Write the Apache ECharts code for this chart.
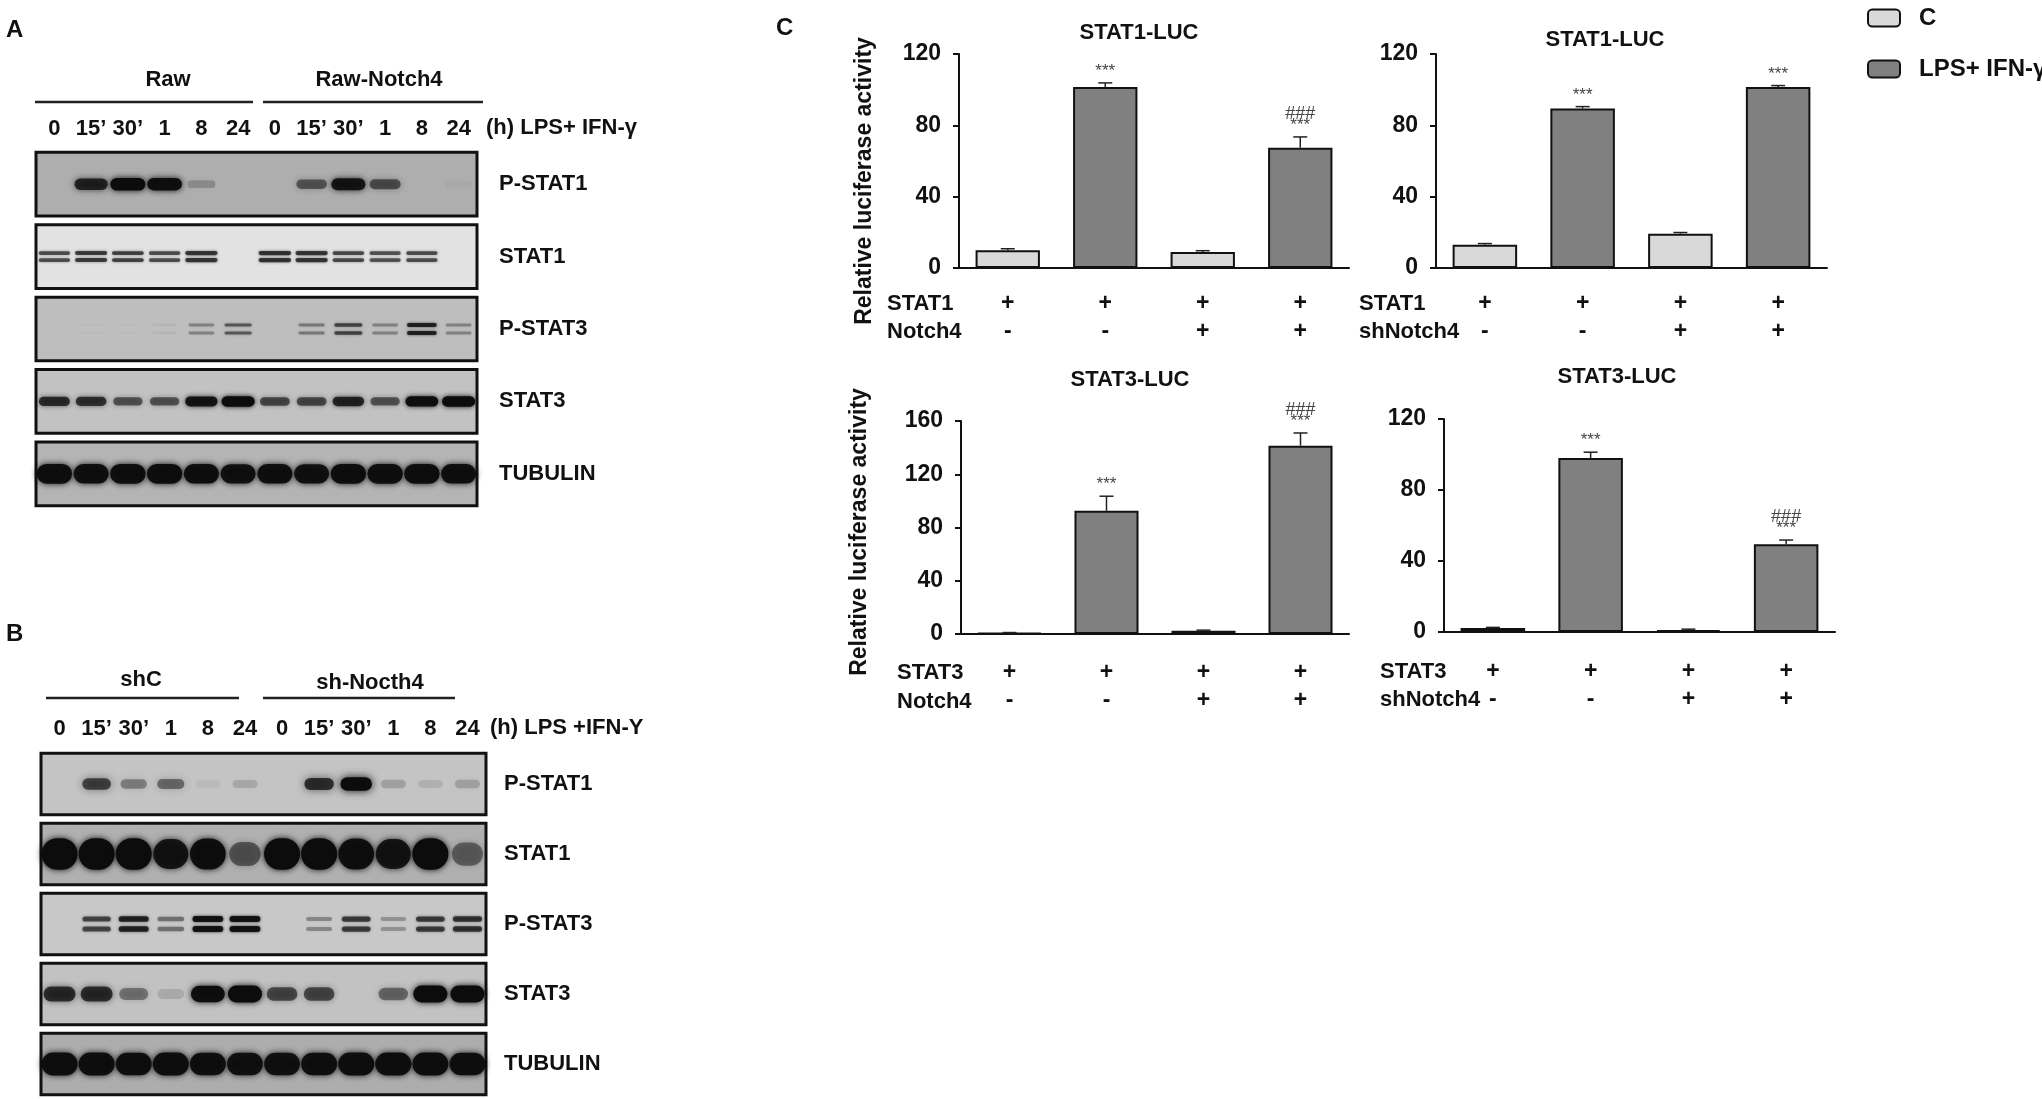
<!DOCTYPE html>
<html>
<head>
<meta charset="utf-8">
<script src="https://cdn.jsdelivr.net/npm/echarts@6/dist/echarts.min.js"></script>
<style>
html, body { margin: 0; padding: 0; background: #fff; }
#main { width: 2042px; height: 1099px; }
</style>
</head>
<body>
<div id="main"></div>
<script>
var FONT = '"Liberation Sans", Arial, sans-serif';

// ---- western blot lanes / rows ----
var laneLabelsA = ['0', '15’', '30’', '1', '8', '24', '0', '15’', '30’', '1', '8', '24'];
var laneLabelsB = ['0', '15’', '30’', '1', '8', '24', '0', '15’', '30’', '1', '8', '24'];
var blotNames = ['P-STAT1', 'STAT1', 'P-STAT3', 'STAT3', 'TUBULIN'];

// band darkness per lane (0 = none, 1 = saturated), panel A
var aPStat1  = [0, 0.8, 1.0, 0.97, 0.2, 0, 0, 0.5, 0.9, 0.55, 0, 0.03];
var aStat1   = [0.6, 0.68, 0.65, 0.6, 0.7, 0, 0.72, 0.7, 0.62, 0.58, 0.6, 0];
var aPStat3  = [0, 0.02, 0.02, 0.05, 0.3, 0.5, 0, 0.35, 0.6, 0.3, 0.8, 0.3];
var aStat3   = [0.75, 0.72, 0.55, 0.55, 0.9, 1.0, 0.6, 0.6, 0.8, 0.55, 0.97, 1.0];
var aTubulin = [0.97, 0.95, 0.97, 0.97, 0.95, 0.93, 0.95, 0.93, 0.97, 0.97, 0.97, 0.95];
// panel B
var bPStat1  = [0, 0.65, 0.35, 0.45, 0.06, 0.15, 0, 0.75, 1.0, 0.18, 0.1, 0.18];
var bStat1   = [1.0, 1.0, 1.0, 0.9, 0.97, 0.5, 1.0, 1.0, 0.97, 0.9, 1.0, 0.45];
var bPStat3  = [0, 0.6, 0.8, 0.4, 0.9, 0.9, 0, 0.3, 0.65, 0.25, 0.65, 0.7];
var bStat3   = [0.75, 0.75, 0.4, 0.12, 0.97, 1.0, 0.6, 0.6, 0, 0.45, 1.0, 1.0];
var bTubulin = [0.97, 0.97, 0.95, 0.97, 0.95, 0.93, 0.93, 0.95, 0.97, 0.97, 0.97, 0.95];

// ---- luciferase bar charts ----
var barGroups = ['C', 'LPS', 'C', 'LPS'];
var stat1Row = ['+', '+', '+', '+'];
var stat3Row = ['+', '+', '+', '+'];
var notch4Row = ['-', '-', '+', '+'];
var shNotch4Row = ['-', '-', '+', '+'];

var stat1Notch4 = [10, 101.5, 9, 67.5];
var stat1Notch4Err = [0.8, 2.3, 0.7, 6];
var stat1ShNotch4 = [13, 89.5, 19.2, 101.5];
var stat1ShNotch4Err = [0.7, 1, 0.7, 0.8];
var stat3Notch4 = [0.8, 92.5, 2.5, 141.5];
var stat3Notch4Err = [0.3, 11, 0.4, 9.5];
var stat3ShNotch4 = [2.2, 98, 1, 49.5];
var stat3ShNotch4Err = [0.4, 3.3, 0.6, 2.3];

var starsAll = ['', '***', '', '***'];
var hashNotch = ['', '', '', '###'];
var hashNone = ['', '', '', ''];

// look of each blot strip (not data)
var lookA = [
    { bg: '#aeaeae', h: 12, dbl: 0, w: 0.95, blur: 6 },
    { bg: '#e2e2e2', h: 4.5, dbl: 7, w: 0.95, blur: 3 },
    { bg: '#bebebe', h: 4, dbl: 8, w: 0.85, blur: 3 },
    { bg: '#c2c2c2', h: 10, dbl: 0, w: 0.9, blur: 5 },
    { bg: '#b4b4b4', h: 19, dbl: 0, w: 0.97, blur: 6 }
];
var lookB = [
    { bg: '#c4c4c4', h: 13, dbl: 0, w: 0.85, blur: 8 },
    { bg: '#b0b0b0', h: 30, dbl: 0, w: 0.97, blur: 6 },
    { bg: '#c8c8c8', h: 6, dbl: 10, w: 0.85, blur: 3 },
    { bg: '#c2c2c2', h: 16, dbl: 0, w: 0.92, blur: 6 },
    { bg: '#adadad', h: 22, dbl: 0, w: 0.98, blur: 6 }
];

function blotData(rows) {
    var out = [];
    rows.forEach(function (arr, r) {
        arr.forEach(function (v, l) { out.push([l, r, v]); });
    });
    return out;
}

function boxRender(look) {
    return function (params, api) {
        var row = api.value(1);
        var cs = params.coordSys;
        var c = api.coord([0, row]);
        var rh = api.size([0, 1])[1] * 0.88;
        return {
            type: 'rect',
            shape: { x: cs.x, y: c[1] - rh / 2, width: cs.width, height: rh },
            style: { fill: look[row].bg, stroke: '#111', lineWidth: 3 }
        };
    };
}

function bandRender(look) {
    return function (params, api) {
        var lane = api.value(0), row = api.value(1), v = api.value(2);
        if (!(v > 0)) return;
        var c = api.coord([lane, row]);
        var st = look[row];
        var w = api.size([1, 0])[0] * st.w * (0.75 + 0.25 * v);
        var h = st.h * (0.55 + 0.5 * v);
        var col = 'rgba(12,12,12,' + v + ')';
        var ys = st.dbl ? [c[1] - st.dbl / 2, c[1] + st.dbl / 2] : [c[1]];
        var kids = ys.map(function (y) {
            return {
                type: 'rect',
                shape: { x: c[0] - w / 2, y: y - h / 2, width: w, height: h, r: h / 2 },
                style: { fill: col, shadowBlur: st.blur, shadowColor: col }
            };
        });
        return { type: 'group', children: kids };
    };
}

// error bars + significance marks
function errRender(stars, hashes) {
    return function (params, api) {
        var i = params.dataIndex;
        var base = api.coord([api.value(0), api.value(1)]);
        var top = api.coord([api.value(0), api.value(1) + api.value(2)]);
        var kids = [
            { type: 'line', shape: { x1: top[0], y1: base[1], x2: top[0], y2: top[1] }, style: { stroke: '#222', lineWidth: 1.5 } },
            { type: 'line', shape: { x1: top[0] - 7, y1: top[1], x2: top[0] + 7, y2: top[1] }, style: { stroke: '#222', lineWidth: 1.5 } }
        ];
        if (stars[i]) {
            kids.push({ type: 'text', style: { text: stars[i], x: top[0], y: top[1] - 3, align: 'center', verticalAlign: 'bottom', fontSize: 17, fontFamily: FONT, fill: '#444' } });
        }
        if (hashes[i]) {
            kids.push({ type: 'text', style: { text: hashes[i], x: top[0], y: top[1] - 14, align: 'center', verticalAlign: 'bottom', fontSize: 18, fontFamily: FONT, fill: '#444' } });
        }
        return { type: 'group', children: kids };
    };
}

var barCharts = [
    { title: 'STAT1-LUC', mean: stat1Notch4, err: stat1Notch4Err, rowNames: ['STAT1', 'Notch4'], rows: [stat1Row, notch4Row], max: 120, stars: starsAll, hashes: hashNotch },
    { title: 'STAT1-LUC', mean: stat1ShNotch4, err: stat1ShNotch4Err, rowNames: ['STAT1', 'shNotch4'], rows: [stat1Row, shNotch4Row], max: 120, stars: starsAll, hashes: hashNone },
    { title: 'STAT3-LUC', mean: stat3Notch4, err: stat3Notch4Err, rowNames: ['STAT3', 'Notch4'], rows: [stat3Row, notch4Row], max: 160, stars: starsAll, hashes: hashNotch },
    { title: 'STAT3-LUC', mean: stat3ShNotch4, err: stat3ShNotch4Err, rowNames: ['STAT3', 'shNotch4'], rows: [stat3Row, shNotch4Row], max: 120, stars: starsAll, hashes: hashNotch }
];

// placement of each bar chart
var barLayout = [
    { left: 959, top: 54, width: 390, height: 214, titleX: 1139, titleY: 33, rowX: 887, rowY: [304, 332], margin: 22 },
    { left: 1436, top: 54, width: 391, height: 214, titleX: 1605, titleY: 40, rowX: 1359, rowY: [304, 332], margin: 22 },
    { left: 961, top: 421, width: 388, height: 213, titleX: 1130, titleY: 380, rowX: 897, rowY: [673, 702], margin: 25 },
    { left: 1444, top: 419, width: 391, height: 213, titleX: 1617, titleY: 377, rowX: 1380, rowY: [672, 700], margin: 26 }
];

var grids = [
    { left: 36, top: 148, width: 441, height: 362 },
    { left: 41, top: 749, width: 445, height: 355 }
];
var xAxes = [], yAxes = [], series = [];
var graphics = [];

function txt(t, x, y, size, opt) {
    opt = opt || {};
    return {
        type: 'text', x: x, y: y, rotation: opt.rot || 0, z: 10,
        style: {
            text: t, fontSize: size, fontFamily: FONT, fontWeight: opt.normal ? 'normal' : 'bold',
            fill: '#111', align: opt.align || 'left', verticalAlign: 'middle'
        }
    };
}
function hline(x1, x2, y) {
    return { type: 'line', shape: { x1: x1, y1: y, x2: x2, y2: y }, style: { stroke: '#222', lineWidth: 2.5 }, z: 10 };
}

// blot panels A and B
[[laneLabelsA, lookA, [aPStat1, aStat1, aPStat3, aStat3, aTubulin], 8, 22],
 [laneLabelsB, lookB, [bPStat1, bStat1, bPStat3, bStat3, bTubulin], 9, 18]].forEach(function (p, k) {
    var labels = p[0];
    xAxes.push({
        gridIndex: k, type: 'category', position: 'top',
        data: labels.map(function (d, i) { return String(i); }),
        axisLine: { show: false }, axisTick: { show: false },
        axisLabel: { interval: 0, margin: p[3], fontSize: 22, fontWeight: 'bold', fontFamily: FONT, color: '#111',
            formatter: function (v, i) { return labels[i]; } }
    });
    yAxes.push({
        gridIndex: k, type: 'category', position: 'right', inverse: true, data: blotNames,
        axisLine: { show: false }, axisTick: { show: false },
        axisLabel: { interval: 0, margin: p[4], fontSize: 22, fontWeight: 'bold', fontFamily: FONT, color: '#111' }
    });
    series.push({
        type: 'custom', xAxisIndex: k, yAxisIndex: k, z: 1, silent: true,
        renderItem: boxRender(p[1]),
        data: blotNames.map(function (n, r) { return [0, r]; })
    });
    series.push({
        type: 'custom', xAxisIndex: k, yAxisIndex: k, z: 2, silent: true,
        renderItem: bandRender(p[1]),
        data: blotData(p[2])
    });
});

// bar panels C
barCharts.forEach(function (c, j) {
    var L = barLayout[j];
    var gi = j + 2;
    grids.push({ left: L.left, top: L.top, width: L.width, height: L.height });
    xAxes.push({
        gridIndex: gi, type: 'category', data: ['0', '1', '2', '3'],
        axisLine: { lineStyle: { color: '#111', width: 2 } },
        axisTick: { show: false },
        axisLabel: {
            interval: 0, margin: L.margin, verticalAlign: 'top',
            formatter: function (v, i) { return '{p|' + c.rows[0][i] + '}\n{p|' + c.rows[1][i] + '}'; },
            rich: { p: { fontSize: 23, fontWeight: 'bold', fontFamily: FONT, color: '#111', lineHeight: 28 } }
        }
    });
    yAxes.push({
        gridIndex: gi, type: 'value', min: 0, max: c.max, interval: 40,
        axisLine: { show: true, lineStyle: { color: '#111', width: 2 } },
        axisTick: { show: true, length: 6, lineStyle: { color: '#111', width: 2 } },
        splitLine: { show: false },
        axisLabel: { margin: 18, fontSize: 23, fontWeight: 'bold', fontFamily: FONT, color: '#111' }
    });
    series.push({
        name: 'C', type: 'bar', xAxisIndex: gi, yAxisIndex: gi, barWidth: '66%', barGap: '-100%',
        itemStyle: { color: '#d9d9d9', borderColor: '#111', borderWidth: 2 },
        data: c.mean.map(function (v, i) { return barGroups[i] === 'C' ? v : '-'; })
    });
    series.push({
        name: 'LPS+ IFN-γ', type: 'bar', xAxisIndex: gi, yAxisIndex: gi, barWidth: '66%', barGap: '-100%',
        itemStyle: { color: '#808080', borderColor: '#111', borderWidth: 2 },
        data: c.mean.map(function (v, i) { return barGroups[i] === 'LPS' ? v : '-'; })
    });
    series.push({
        type: 'custom', xAxisIndex: gi, yAxisIndex: gi, z: 5, silent: true,
        renderItem: errRender(c.stars, c.hashes),
        data: c.mean.map(function (v, i) { return [i, v, c.err[i]]; })
    });
    graphics.push(txt(c.title, L.titleX, L.titleY, 22, { align: 'center' }));
    graphics.push(txt(c.rowNames[0], L.rowX, L.rowY[0], 22));
    graphics.push(txt(c.rowNames[1], L.rowX, L.rowY[1], 22));
});

// panel letters, group headers, axis titles
graphics.push(txt('A', 6, 30, 24));
graphics.push(txt('B', 6, 634, 24));
graphics.push(txt('C', 776, 28, 24));
graphics.push(txt('Raw', 168, 80, 22, { align: 'center' }));
graphics.push(txt('Raw-Notch4', 379, 80, 22, { align: 'center' }));
graphics.push(hline(35, 253, 102));
graphics.push(hline(263, 483, 102));
graphics.push(txt('(h) LPS+ IFN-γ', 486, 128, 22));
graphics.push(txt('shC', 141, 680, 22, { align: 'center' }));
graphics.push(txt('sh-Nocth4', 370, 683, 22, { align: 'center' }));
graphics.push(hline(46, 239, 698));
graphics.push(hline(263, 455, 698));
graphics.push(txt('(h) LPS +IFN-Y', 490, 728, 22));
graphics.push(txt('Relative luciferase activity', 865, 181, 23, { align: 'center', rot: Math.PI / 2 }));
graphics.push(txt('Relative luciferase activity', 860, 532, 23, { align: 'center', rot: Math.PI / 2 }));

var myChart = echarts.init(document.getElementById('main'));
myChart.setOption({
    animation: false,
    backgroundColor: '#fff',
    legend: {
        data: ['C', 'LPS+ IFN-γ'], orient: 'vertical', left: 1862, top: 1,
        itemWidth: 32, itemHeight: 17, itemGap: 27, selectedMode: false,
        textStyle: { fontSize: 24, fontWeight: 'bold', fontFamily: FONT, color: '#111', padding: [0, 0, 0, 14] }
    },
    grid: grids,
    xAxis: xAxes,
    yAxis: yAxes,
    series: series,
    graphic: graphics
});
</script>
</body>
</html>
